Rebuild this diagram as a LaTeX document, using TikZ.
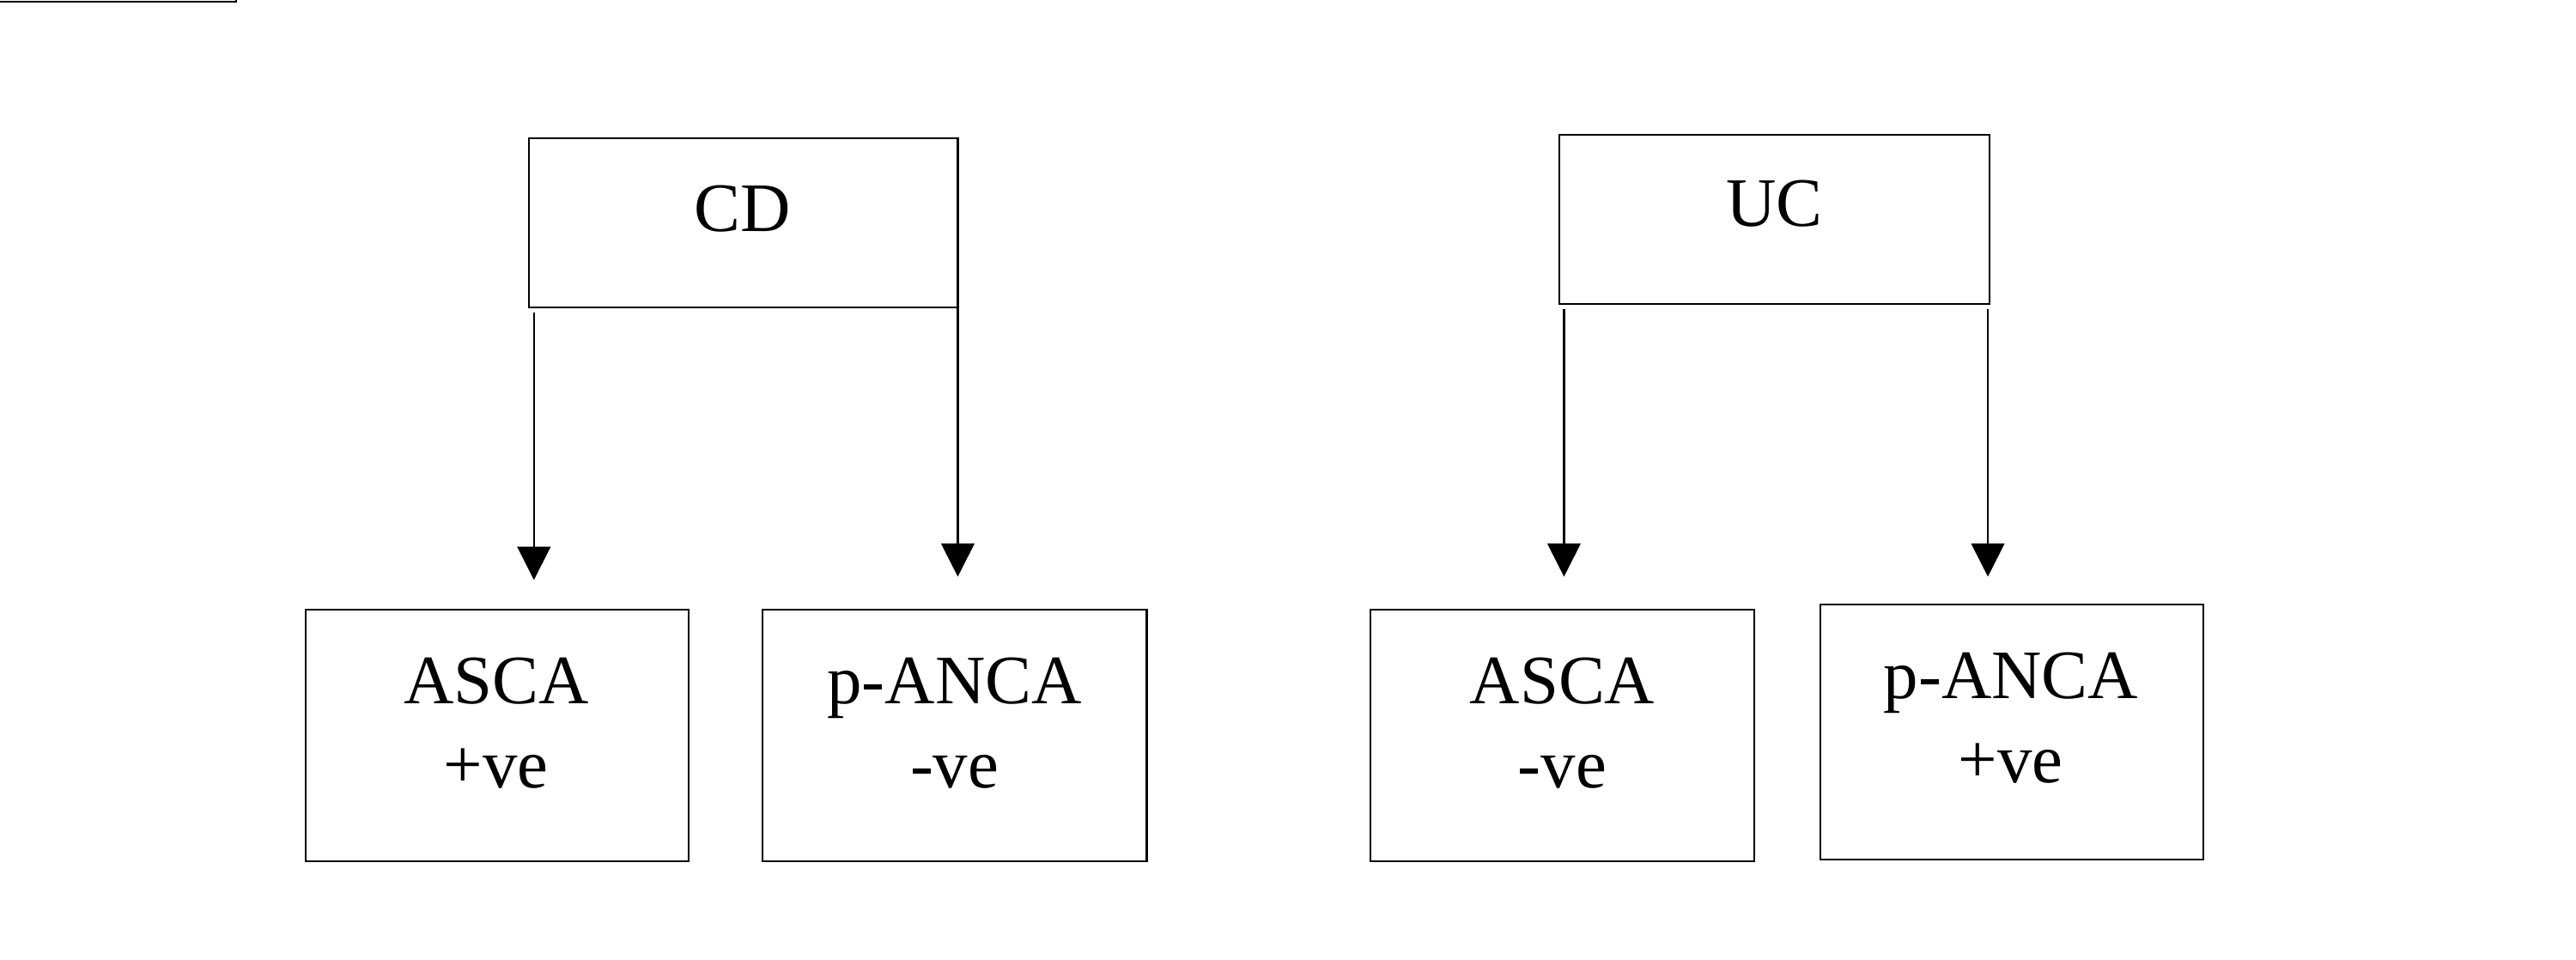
\documentclass[tikz,border=0pt]{standalone}
\usepackage{fontspec}
\setmainfont{Liberation Serif}
\usetikzlibrary{arrows.meta,calc}
\begin{document}
\begin{tikzpicture}[x=0.019133cm,y=-0.019133cm,
  box/.style={draw,line width=0.6pt,inner sep=0pt},
  txt/.style={font=\fontsize{23}{28}\selectfont,align=center},
  arr/.style={line width=0.6pt,-{Triangle[width=11pt,length=11pt]}}]
\useasboundingbox (0,0) rectangle (1568,584);
\node[box,minimum width=261\pgflinewidth] (cd) at (0,0) {};
\draw[line width=0.6pt] (322,84) rectangle (583,187);
\draw[line width=0.6pt] (949,82) rectangle (1211,185);
\draw[line width=0.6pt] (186,371) rectangle (419,524);
\draw[line width=0.6pt] (464,371) rectangle (698,524);
\draw[line width=0.6pt] (834,371) rectangle (1068,524);
\draw[line width=0.6pt] (1108,368) rectangle (1341,523);
\node[txt] (CD) at (452,127) {CD};
\node[txt] (UC) at (1080,124) {UC};
\node[txt] (a1) at (302,440) {ASCA\\+ve};
\node[txt] (p1) at (581,440) {p-ANCA\\-ve};
\node[txt] (a2) at (951,440) {ASCA\\-ve};
\node[txt] (p2) at (1224,437) {p-ANCA\\+ve};
\coordinate (s1) at (325,190); \coordinate (e1) at (325,353);
\coordinate (s2) at (583,187); \coordinate (e2) at (583,351);
\coordinate (s3) at (952,188); \coordinate (e3) at (952,351);
\coordinate (s4) at (1210,188); \coordinate (e4) at (1210,351);
\draw[arr] (s1) -- (e1);
\draw[arr] (s2) -- (e2);
\draw[arr] (s3) -- (e3);
\draw[arr] (s4) -- (e4);
\end{tikzpicture}
\end{document}
